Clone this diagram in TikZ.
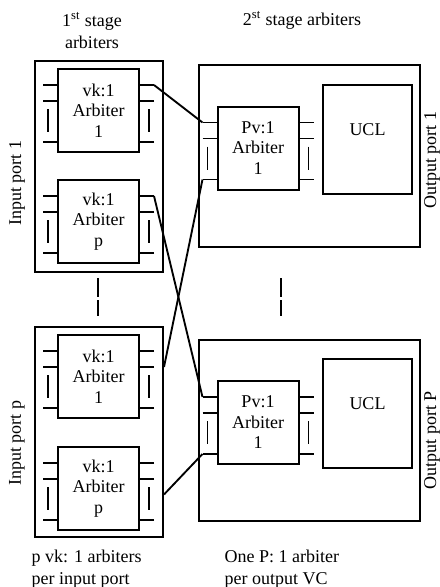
\documentclass[tikz,border=0pt]{standalone}
\usepackage{fontspec}
\setmainfont{Liberation Serif}
\usetikzlibrary{positioning,calc}

\begin{document}
\begin{tikzpicture}[
x=0.75pt,y=-0.75pt,
every node/.style={font=\fontsize{13.5}{15.4}\selectfont},
port/.style={rectangle,draw,line width=1.5pt,inner sep=0pt},
arb/.style={rectangle,draw,line width=1.5pt,inner sep=0pt,
minimum width=60.75pt,minimum height=62.25pt,align=center},
ucl/.style={rectangle,draw,line width=1.5pt,inner sep=0pt,
minimum width=66.75pt,minimum height=81.75pt,text height=9pt,text depth=15pt},
stub/.style={line width=1.4pt},
link/.style={line width=1.4pt},
gapline/.style={line width=1.4pt,dash pattern=on 14pt off 2.5pt}
]
\useasboundingbox (0,0) rectangle (440,587);
% input ports, 1st stage
\node[port,minimum width=96pt,minimum height=158.25pt] (in1) at (99,166.5) {};
\node[port,minimum width=96pt,minimum height=157.5pt] (inP) at (99,432) {};
\node[arb] (a1) at (98.5,110.5) {vk:1\\Arbiter\\1};
\node[arb,below=19.5pt of a1] (ap) {vk:1\\Arbiter\\p};
\node[arb] (c1) at (98.5,376.5) {vk:1\\Arbiter\\1};
\node[arb,below=20.25pt of c1] (cp) {vk:1\\Arbiter\\p};
% output ports, 2nd stage
\node[port,minimum width=165.75pt,minimum height=136.5pt] (out1) at (309.5,156) {};
\node[port,minimum width=165.75pt,minimum height=135.75pt] (outP) at (309.5,430.5) {};
\node[arb] (b1) at (258,148) {Pv:1\\Arbiter\\1};
\node[arb] (bp) at (258,422.5) {Pv:1\\Arbiter\\1};
\node[ucl] (u1) at (367.5,139.5) {UCL};
\node[ucl] (uP) at (367.5,413.5) {UCL};
% port labels
\node[rotate=90] (l1) at (17,183) {Input port 1};
\node[rotate=90] (lp) at (17,443) {Input port p};
\node[rotate=90] (r1) at (432,160) {Output port 1};
\node[rotate=90] (rp) at (432,440) {Output port P};
\node[align=center,font=\fontsize{13.5}{16.5}\selectfont] (t1) at (92,31) {1\textsuperscript{st} stage\\arbiters};
\node (t2) at (302,20) {2\textsuperscript{st} stage arbiters};
\node[align=left,anchor=west,font=\fontsize{13.5}{16.5}\selectfont] (b1txt) at (27,569) {p vk: 1 arbiters\\per input port};
\node[align=left,anchor=west,font=\fontsize{13.5}{16.5}\selectfont] (b2txt) at (220,569) {One P: 1 arbiter\\per output VC};
% stubs on every arbiter
\foreach \n in {a1,ap,c1,cp,b1,bp}{
\path (\n.north west) ++(-14,17) coordinate (\n-w1)
      (\n.north west) ++(-14,33) coordinate (\n-w2)
      (\n.north west) ++(-14,74) coordinate (\n-w3)
      (\n.north east) ++(14,17) coordinate (\n-e1)
      (\n.north east) ++(14,33) coordinate (\n-e2)
      (\n.north east) ++(14,74) coordinate (\n-e3);
\draw[stub] (\n-w1) -- +(14,0) (\n-w2) -- +(14,0) (\n-w3) -- +(14,0)
            (\n-e1) -- +(-14,0) (\n-e2) -- +(-14,0) (\n-e3) -- +(-14,0);
\draw[stub] (\n.north west) ++(-9,41) -- ++(0,23)
            (\n.north east) ++(9,41) -- ++(0,23);
}
% links between stages
\coordinate (c1out) at (c1-e2 -| inP.east);
\coordinate (cpout) at ($(cp.east -| inP.east)+(0,6)$);
\draw[link] (a1-e1) -- (b1-w1);
\draw[link] (ap-e1) -- (bp-w1);
\draw[link] (c1out) -- (b1-w3);
\draw[link] (cpout) -- (bp-w3);
% more ports
\draw[gapline] (98,278) -- (98,316);
\draw[gapline] (281,278) -- (281,316);
\end{tikzpicture}
\end{document}
